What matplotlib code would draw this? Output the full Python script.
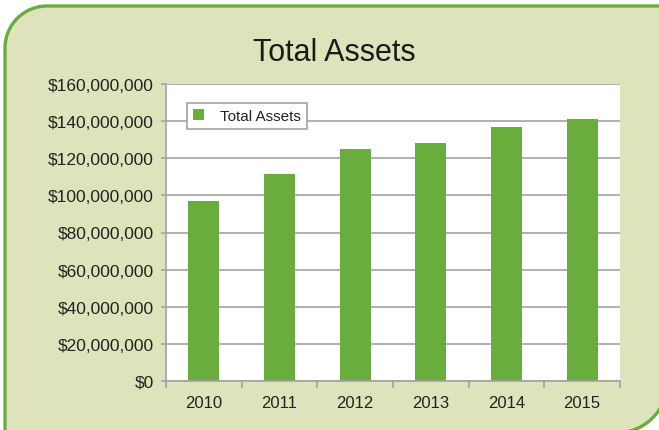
import matplotlib
matplotlib.use('Agg')
import matplotlib.pyplot as plt
from matplotlib.path import Path
from matplotlib.patches import PathPatch
from matplotlib.ticker import FuncFormatter, FixedLocator

# Datos
anios = ['2010', '2011', '2012', '2013', '2014', '2015']
activos_totales = [96800000, 111400000, 124900000, 128100000, 136800000, 141100000]

verde = '#69ad3d'
fondo = '#dfe3bb'
gris = '#a3a3a3'
texto = '#222222'

plt.rcParams['font.family'] = ['Liberation Sans', 'DejaVu Sans']

fig = plt.figure(figsize=(6.59, 4.31), dpi=100)

# Tarjeta de fondo con dos esquinas redondeadas (en pixeles)
fondo_ax = fig.add_axes([0, 0, 1, 1], zorder=-1)
fondo_ax.set_xlim(0, 659)
fondo_ax.set_ylim(431, 0)
fondo_ax.axis('off')
izq, arriba, der, abajo = 5, 7, 668, 434
r1, r2 = 42, 52
k1, k2 = 0.5523 * r1, 0.5523 * r2
vertices = [
    (izq, abajo),
    (izq, arriba + r1),
    (izq, arriba + r1 - k1), (izq + r1 - k1, arriba), (izq + r1, arriba),
    (der, arriba),
    (der, abajo - r2),
    (der, abajo - r2 + k2), (der - r2 + k2, abajo), (der - r2, abajo),
    (izq, abajo),
]
codigos = [Path.MOVETO, Path.LINETO,
           Path.CURVE4, Path.CURVE4, Path.CURVE4,
           Path.LINETO, Path.LINETO,
           Path.CURVE4, Path.CURVE4, Path.CURVE4,
           Path.CLOSEPOLY]
tarjeta = PathPatch(Path(vertices, codigos), facecolor=fondo, edgecolor=verde, linewidth=2.4)
fondo_ax.add_patch(tarjeta)

# Area del grafico
ax = fig.add_axes([166 / 659, (431 - 382) / 431, (620 - 166) / 659, (382 - 85) / 431])
ax.set_facecolor('white')

posiciones = list(range(len(anios)))
ax.bar(posiciones, activos_totales, width=0.41, color=verde, label='Total Assets', zorder=3)

ax.set_xlim(-0.5, len(anios) - 0.5)
ax.set_ylim(0, 160000000)
ax.set_yticks(range(0, 160000001, 20000000))
ax.yaxis.set_major_formatter(FuncFormatter(lambda v, p: '${:,.0f}'.format(v)))
ax.grid(axis='y', color=gris, linewidth=1.2, zorder=0)

ax.set_xticks(posiciones)
ax.set_xticklabels(anios)
ax.xaxis.set_minor_locator(FixedLocator([p - 0.5 for p in range(len(anios) + 1)]))
ax.tick_params(axis='x', which='major', length=0, pad=10, labelsize=12, labelcolor=texto)
ax.tick_params(axis='x', which='minor', length=5, width=1.2, color=gris, direction='out')
ax.tick_params(axis='y', length=3.6, width=1.2, color=gris, pad=5, labelsize=12.5, labelcolor=texto)

for lado in ['top', 'right']:
    ax.spines[lado].set_visible(False)
for lado in ['left', 'bottom']:
    ax.spines[lado].set_color(gris)
    ax.spines[lado].set_linewidth(1.2)
ax.spines['bottom'].set_zorder(4)

leyenda = ax.legend(loc='upper left', bbox_to_anchor=(0.046, 0.936), borderaxespad=0,
                    fancybox=False, edgecolor=gris, framealpha=1, fontsize=11,
                    handlelength=0.75, handleheight=0.75, handletextpad=1.0,
                    borderpad=0.4)
leyenda.get_frame().set_linewidth(1.2)
for t in leyenda.get_texts():
    t.set_color(texto)

fig.text(334 / 659, 1 - 61 / 431, 'Total Assets', ha='center', va='baseline',
         fontsize=22, color='#1a1a1a')

fig.savefig('out.png', dpi=100)
